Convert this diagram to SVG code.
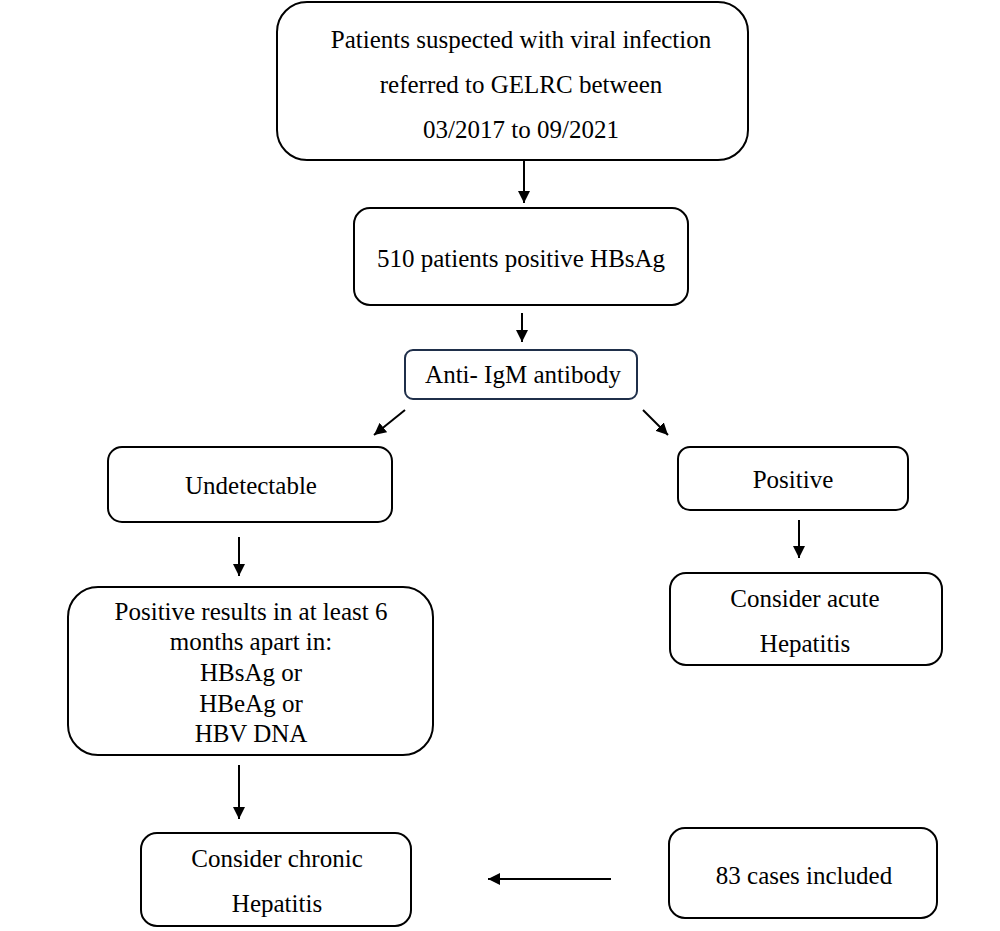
<svg xmlns="http://www.w3.org/2000/svg" width="1000" height="931" viewBox="0 0 1000 931">
<style>
.box{fill:#fff;stroke:#000;stroke-width:2}
.nb{fill:#fff;stroke:#1f2f4a;stroke-width:2}
.t{font-family:'Liberation Serif',serif;font-size:25px;fill:#000;text-anchor:middle}
.c{stroke:#000;stroke-width:2;fill:none;marker-end:url(#ah)}
</style>
<defs>
<marker id="ah" viewBox="0 0 10 10" refX="10" refY="5" markerWidth="6" markerHeight="6" markerUnits="strokeWidth" orient="auto">
<path d="M0,0 L10,5 L0,10 z" fill="#000"/>
</marker>
</defs>
<rect width="1000" height="931" fill="#fff"/>
<g id="n1"><rect class="box" x="277" y="2" width="471" height="158" rx="30"/>
<text class="t" x="521" y="48">Patients suspected with viral infection</text>
<text class="t" x="521" y="93">referred to GELRC between</text>
<text class="t" x="521" y="138">03/2017 to 09/2021</text></g>
<g id="n2"><rect class="box" x="354" y="208" width="334" height="97" rx="16"/>
<text class="t" x="521" y="267">510 patients positive HBsAg</text></g>
<g id="n3"><rect class="nb" x="405" y="350" width="232" height="49" rx="8"/>
<text class="t" x="523" y="383">Anti- IgM antibody</text></g>
<g id="n4"><rect class="box" x="108" y="447" width="284" height="75" rx="14"/>
<text class="t" x="251" y="494">Undetectable</text></g>
<g id="n5"><rect class="box" x="678" y="447" width="230" height="63" rx="12"/>
<text class="t" x="793" y="488">Positive</text></g>
<g id="n6"><rect class="box" x="68" y="587" width="365" height="168" rx="30"/>
<text class="t" x="251" y="620">Positive results in at least 6</text>
<text class="t" x="251" y="650">months apart in:</text>
<text class="t" x="251" y="681">HBsAg or</text>
<text class="t" x="251" y="712">HBeAg or</text>
<text class="t" x="251" y="742">HBV DNA</text></g>
<g id="n7"><rect class="box" x="670" y="573" width="272" height="92" rx="16"/>
<text class="t" x="805" y="607">Consider acute</text>
<text class="t" x="805" y="652">Hepatitis</text></g>
<g id="n8"><rect class="box" x="141" y="833" width="270" height="93" rx="16"/>
<text class="t" x="277" y="867">Consider chronic</text>
<text class="t" x="277" y="912">Hepatitis</text></g>
<g id="n9"><rect class="box" x="669" y="828" width="268" height="90" rx="16"/>
<text class="t" x="804" y="884">83 cases included</text></g>
<g id="connectors">
<line class="c" x1="524" y1="160" x2="524" y2="203"/>
<line class="c" x1="522" y1="313" x2="522" y2="342"/>
<line class="c" x1="405" y1="410" x2="374" y2="435"/>
<line class="c" x1="643" y1="410" x2="668" y2="435"/>
<line class="c" x1="239" y1="537" x2="239" y2="576"/>
<line class="c" x1="799" y1="520" x2="799" y2="558"/>
<line class="c" x1="239" y1="765" x2="239" y2="819"/>
<line class="c" x1="611" y1="879" x2="488" y2="879"/>
</g>
</svg>
